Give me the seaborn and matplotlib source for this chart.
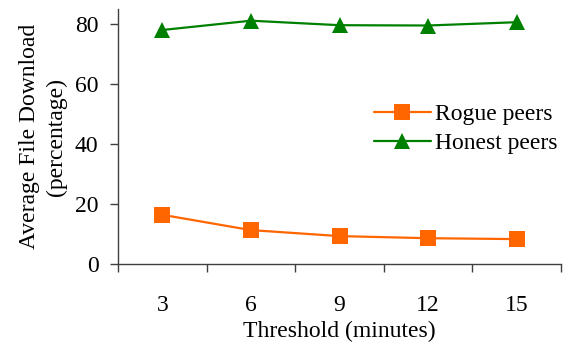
import matplotlib
matplotlib.use("Agg")
import matplotlib.pyplot as plt
import seaborn as sns
import pandas as pd
from matplotlib.ticker import FixedLocator

thresholds = ["3", "6", "9", "12", "15"]
rogue = [16.4, 11.3, 9.3, 8.6, 8.3]
honest = [78.0, 81.1, 79.6, 79.5, 80.6]
series_names = ["Rogue peers", "Honest peers"]

df = pd.DataFrame({
    "pos": list(range(len(thresholds))) * 2,
    "value": rogue + honest,
    "series": [series_names[0]] * len(rogue) + [series_names[1]] * len(honest),
})

sns.set_style("white")
plt.rcParams["font.family"] = ["Liberation Serif", "DejaVu Serif"]
plt.rcParams["text.color"] = "black"
plt.rcParams["axes.labelcolor"] = "black"
plt.rcParams["xtick.color"] = "black"
plt.rcParams["ytick.color"] = "black"

fig = plt.figure(figsize=(5.63, 3.43), dpi=100)
ax = fig.add_axes([118 / 563, (343 - 264) / 343, (561 - 118) / 563, (264 - 9) / 343])

palette = {series_names[0]: "#FF6600", series_names[1]: "#008000"}
markers = {series_names[0]: "s", series_names[1]: "^"}
sns.lineplot(data=df, x="pos", y="value", hue="series", style="series",
             palette=palette, markers=markers, dashes=False, markersize=11.5,
             linewidth=1.6, markeredgewidth=0, ax=ax)

ax.set_xlim(-0.5, len(thresholds) - 0.5)
ax.set_ylim(0, 85)
ax.set_yticks([0, 20, 40, 60, 80])
ax.set_xticks(range(len(thresholds)))
ax.set_xticklabels(thresholds)
ax.xaxis.set_minor_locator(FixedLocator([i - 0.5 for i in range(len(thresholds) + 1)]))
ax.tick_params(axis="x", which="major", length=0, labelsize=17, pad=22, labelcolor="black")
ax.tick_params(axis="x", which="minor", length=6, width=1, color="#404040", direction="out", bottom=True)
ax.tick_params(axis="y", which="major", length=6, width=1, color="#404040", direction="out", left=True,
               labelsize=17, pad=8, labelcolor="black")

for s in ["top", "right"]:
    ax.spines[s].set_visible(False)
for s in ["left", "bottom"]:
    ax.spines[s].set_color("#404040")
    ax.spines[s].set_linewidth(1.0)

ax.set_xlabel("Threshold (minutes)", fontsize=17, labelpad=3.5, color="black")
ax.set_ylabel("Average File Download\n(percentage)", fontsize=17, labelpad=6, linespacing=1.35, color="black")

leg = ax.legend(loc="center left", bbox_to_anchor=(0.53, 0.53), frameon=False,
                fontsize=17, handlelength=2.4, handletextpad=0.2, labelspacing=0.3)
for t in leg.get_texts():
    t.set_color("black")

fig.savefig("out.png", dpi=100)
